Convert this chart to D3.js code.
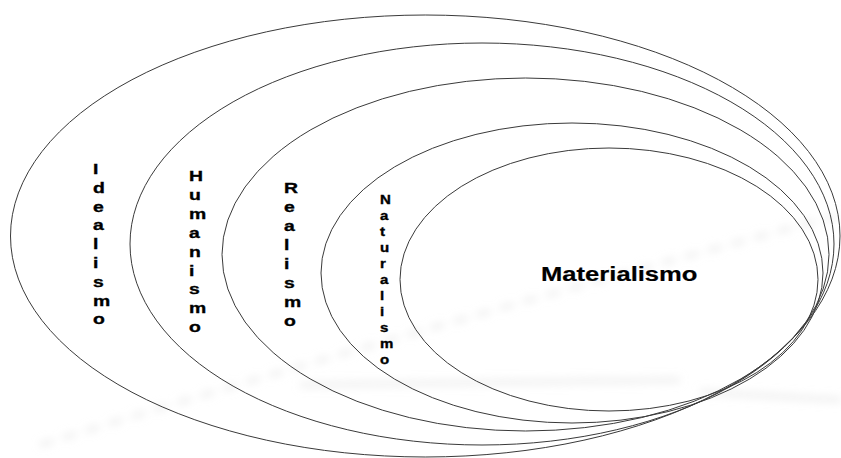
<!DOCTYPE html>
<html>
<head>
<meta charset="utf-8">
<script src="https://cdn.jsdelivr.net/npm/d3@7/dist/d3.min.js"></script>
<style>
  html, body { margin: 0; padding: 0; background: #fff; }
  svg { display: block; }
</style>
</head>
<body>
<script>
// Nested concepts, outermost first
const labels = ["Idealismo", "Humanismo", "Realismo", "Naturalismo", "Materialismo"];
// Extents of each nested ring in diagram units (0..841 wide, 0..458 high)
const ringLeft   = [10.5, 130, 222, 321, 400];
const ringRight  = [840, 834, 829, 823, 818];
const ringTop    = [15, 43, 78, 123, 148];
const ringBottom = [457, 445, 431, 423, 411];
const ringTilt   = [0, 0, 0, 0, 0];
// Label anchor for the vertical labels (diagram units)
const labelX     = [93, 189, 284, 380];
const labelY0    = [174, 181, 193, 204];
const labelStep  = [18.8, 18.9, 19, 16];
const labelSize  = [15.5, 15.5, 15.5, 12];

const W = 841, H = 458;
const x = d3.scaleLinear().domain([0, 841]).range([0, W]);
const y = d3.scaleLinear().domain([0, 458]).range([0, H]);

const svg = d3.select("body").append("svg").attr("width", W).attr("height", H);

// faint blurred background
const defs = svg.append("defs");
defs.append("filter").attr("id", "blur").attr("x", "-10%").attr("y", "-50%").attr("width", "120%").attr("height", "200%")
  .append("feGaussianBlur").attr("stdDeviation", 4);
const bg = svg.append("g").attr("filter", "url(#blur)").attr("fill", "none").attr("stroke", "#ddd");
bg.append("path").attr("d", "M40,445 C250,380 520,300 840,215").attr("stroke-width", 5).attr("stroke-dasharray", "14 10").attr("opacity", 0.5);
bg.append("path").attr("d", "M300,385 L680,380").attr("stroke-width", 6).attr("opacity", 0.45);
bg.append("path").attr("d", "M700,392 L841,400").attr("stroke-width", 6).attr("opacity", 0.45);

const rings = labels.map((l, i) => ({
  label: l,
  cx: (ringLeft[i] + ringRight[i]) / 2,
  cy: (ringTop[i] + ringBottom[i]) / 2,
  rx: (ringRight[i] - ringLeft[i]) / 2,
  ry: (ringBottom[i] - ringTop[i]) / 2,
  tilt: ringTilt[i]
}));

svg.append("g").selectAll("ellipse").data(rings).join("ellipse")
  .attr("cx", d => x(d.cx)).attr("cy", d => y(d.cy))
  .attr("rx", d => x(d.rx) - x(0)).attr("ry", d => y(d.ry) - y(0))
  .attr("transform", d => `rotate(${d.tilt},${x(d.cx)},${y(d.cy)})`)
  .attr("fill", "none").attr("stroke", "#3a3a3a").attr("stroke-width", 1);

const font = "'Liberation Sans', Arial, sans-serif";
const tg = svg.append("g").attr("font-family", font).attr("font-weight", "bold")
  .attr("fill", "#000").attr("stroke", "#000").attr("stroke-width", 0.35);
labels.slice(0, 4).forEach((l, i) => {
  const letters = l.split("");
  tg.append("g").selectAll("text").data(letters).join("text")
    .attr("transform", (c, j) => `translate(${x(labelX[i])},${y(labelY0[i] + j * labelStep[i])}) scale(1.25,1)`)
    .attr("font-size", labelSize[i])
    .text(c => c);
});
tg.append("text")
  .attr("transform", `translate(${x(541)},${y(281)}) scale(1.22,1)`)
  .attr("font-size", 21)
  .attr("stroke-width", 0.2)
  .text(labels[4]);
</script>
</body>
</html>
